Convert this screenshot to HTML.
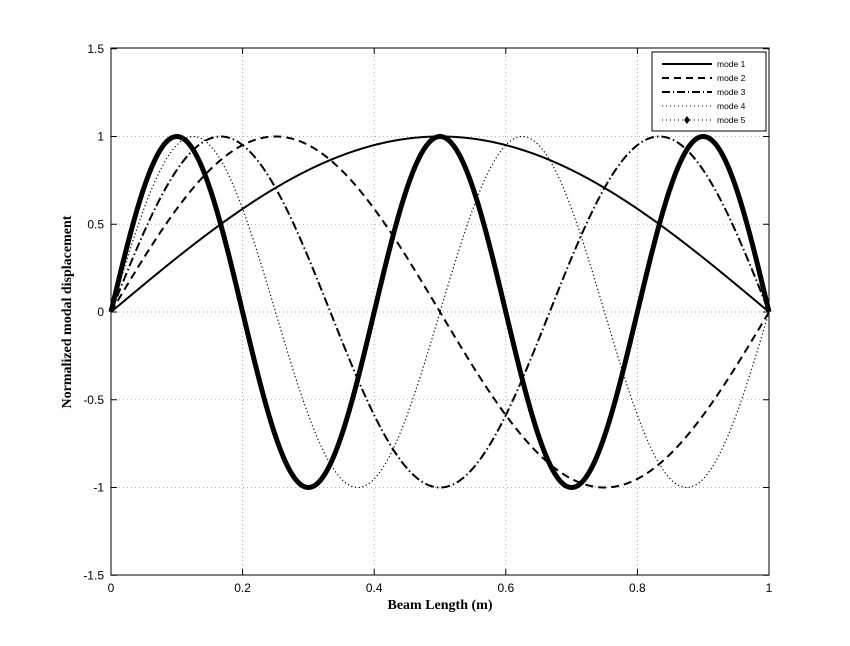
<!DOCTYPE html>
<html><head><meta charset="utf-8"><style>
body{margin:0;background:#fff;}
svg{display:block;font-family:"Liberation Sans",sans-serif;}
</style></head><body>
<svg id="s" width="850" height="646" viewBox="0 0 850 646" xmlns="http://www.w3.org/2000/svg">
<rect width="850" height="646" fill="#fff"/>
<g id="grid" stroke="#999" stroke-width="0.8" stroke-dasharray="1,3"></g>
<rect x="111" y="48" width="658" height="527" fill="none" stroke="#000" stroke-width="1"/>
<g id="ticks" stroke="#000" stroke-width="1"></g>
<g id="labels" font-size="12" fill="#000"></g>
<g id="curves" fill="none" stroke="#000"></g>
<text x="440" y="609" font-family="Liberation Serif,serif" font-weight="bold" font-size="14" text-anchor="middle">Beam Length (m)</text>
<text transform="translate(71,312) rotate(-90)" font-family="Liberation Serif,serif" font-weight="bold" font-size="14" text-anchor="middle">Normalized modal displacement</text>
<g>
<rect x="652" y="52" width="114" height="79" fill="#fff" stroke="#000" stroke-width="1"/>
<g font-size="8.5" fill="#000">
<line x1="662" y1="64" x2="712" y2="64" stroke="#000" stroke-width="2"/><text x="717" y="67">mode 1</text>
<line x1="662" y1="78" x2="712" y2="78" stroke="#000" stroke-width="2" stroke-dasharray="7,5"/><text x="717" y="81">mode 2</text>
<line x1="662" y1="92" x2="712" y2="92" stroke="#000" stroke-width="2" stroke-dasharray="8,3,1,3"/><text x="717" y="95">mode 3</text>
<line x1="662" y1="106" x2="712" y2="106" stroke="#000" stroke-width="1" stroke-dasharray="1,3"/><text x="717" y="109">mode 4</text>
<line x1="662" y1="120" x2="712" y2="120" stroke="#000" stroke-width="1" stroke-dasharray="1,3"/><path d="M687 116 L690 120 L687 124 L684 120Z" fill="#000"/><text x="717" y="123">mode 5</text>
</g></g>
</svg>
<script>
var NS="http://www.w3.org/2000/svg";
function X(v){return 111+658*v;} function Y(v){return 312-175.5*v;}
function el(p,t,a,txt){var e=document.createElementNS(NS,t);for(var k in a)e.setAttribute(k,a[k]);if(txt!=null)e.textContent=txt;document.getElementById(p).appendChild(e);}
var xs=[0,0.2,0.4,0.6,0.8,1],ys=[-1.5,-1,-0.5,0,0.5,1,1.5];
xs.forEach(function(v){var x=X(v);if(v>0&&v<1)el("grid","line",{x1:x,y1:48,x2:x,y2:575});
el("ticks","line",{x1:x,y1:575,x2:x,y2:569});el("ticks","line",{x1:x,y1:48,x2:x,y2:54});
el("labels","text",{x:x,y:592,"text-anchor":"middle"},String(v));});
ys.forEach(function(v){var y=Y(v);if(v>-1.5&&v<1.5)el("grid","line",{x1:111,y1:y,x2:769,y2:y});
el("ticks","line",{x1:111,y1:y,x2:117,y2:y});el("ticks","line",{x1:769,y1:y,x2:763,y2:y});
el("labels","text",{x:104,y:y+4,"text-anchor":"end"},String(v));});
var st=[{w:2,d:""},{w:2,d:"8,5"},{w:2,d:"9,3,1.5,3"},{w:1.2,d:"1.2,2.5"},{w:5,d:""}];
for(var n=1;n<=5;n++){var d="";for(var i=0;i<=600;i++){var t=i/600;d+=(i?"L":"M")+X(t).toFixed(2)+" "+Y(Math.sin(n*Math.PI*t)).toFixed(2);}
var a={d:d,"stroke-width":st[n-1].w,"stroke-linejoin":"round"};if(st[n-1].d)a["stroke-dasharray"]=st[n-1].d;el("curves","path",a);}
</script>
</body></html>
